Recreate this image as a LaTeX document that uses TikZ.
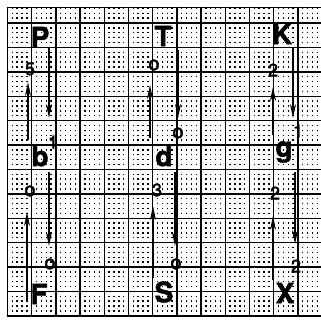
\documentclass[tikz,border=0pt]{standalone}
\usepackage{fontspec}
\newfontfamily\heavy[FakeBold=1.6]{TeX Gyre Heros}
\newfontfamily\pen[FakeBold=2.2]{TeX Gyre Heros}
\usetikzlibrary{arrows.meta}
\begin{document}
\begin{tikzpicture}[x=1pt,y=-1pt,
  letter/.style={font=\heavy\bfseries\fontsize{28}{28}\selectfont, inner sep=0pt, text=black},
  hand/.style={font=\pen\fontsize{18}{18}\selectfont, inner sep=0pt},
  ring/.style={font=\pen\fontsize{20}{20}\selectfont, inner sep=0pt},
  arr/.style={line width=1.9pt, -{Stealth[length=14pt,width=6pt]}},
  major/.style={line width=1.4pt, black},
  dots/.style={line width=1.4pt, black, dash pattern=on 1.4pt off 3.48pt}
  ]
\useasboundingbox (0,0) rectangle (321,321);
\fill[white] (0,0) rectangle (321,321);
% graph paper
\begin{scope}
\clip (7,7) rectangle (321,317);
\foreach \i [evaluate=\i as \x using 7.5+4.84*\i] in {0,...,65}
  \draw[dots] (\x,7.66) -- (\x,317);
\foreach \k [evaluate=\k as \x using 7.5+24.2*\k] in {0,...,13}
  \draw[major] (\x,7) -- (\x,317);
\foreach \k [evaluate=\k as \y using 23+24.4*\k] in {0,...,12}
  \draw[major] (7,\y) -- (321,\y);
\end{scope}
\draw[line width=1.8pt] (7.5,7) -- (7.5,317);
\draw[line width=1.6pt] (7,7.5) -- (321,7.5);
% letters
\node[letter] (P) at (40,37) {P};
\node[letter] (T) at (163,36) {T};
\node[letter] (K) at (282,34) {K};
\node[letter] (b) at (40,156) {b};
\node[letter] (d) at (164,156) {d};
\node[letter] (g) at (284,152) {g};
\node[letter] (F) at (39,294) {F};
\node[letter] (S) at (164,292) {S};
\node[letter] (X) at (285,293) {X};
% column 1
\coordinate (c1a) at (28,140); \coordinate (c1b) at (28,82);
\coordinate (c1c) at (49,48);  \coordinate (c1d) at (49,118);
\coordinate (c1e) at (27,300); \coordinate (c1f) at (27,212);
\coordinate (c1g) at (49,172); \coordinate (c1h) at (49,246);
\draw[arr] (c1a) -- (c1b);
\draw[arr] (c1c) -- (c1d);
\draw[arr] (c1e) -- (c1f);
\draw[arr] (c1g) -- (c1h);
\node[hand] (l1) at (30,69) {5};
\node[hand] (l2) at (53,142) {1};
\node[ring] (l3) at (30,191) {o};
\node[ring] (l4) at (50,264) {o};
% column 2
\coordinate (c2a) at (150,138); \coordinate (c2b) at (150,85);
\coordinate (c2c) at (178,50);  \coordinate (c2d) at (178,118);
\coordinate (c2e) at (153,278); \coordinate (c2f) at (153,206);
\coordinate (c2g) at (175,172); \coordinate (c2h) at (175,246);
\draw[arr] (c2a) -- (c2b);
\draw[arr] (c2c) -- (c2d);
\draw[arr] (c2e) -- (c2f);
\draw[arr] (c2g) -- (c2h);
\node[ring] (m1) at (154,65) {o};
\node[ring] (m2) at (178,133) {o};
\node[hand] (m3) at (157,190) {3};
\node[ring] (m4) at (176,264) {o};
% column 3
\coordinate (c3a) at (273,135); \coordinate (c3b) at (273,87);
\coordinate (c3c) at (293,48);  \coordinate (c3d) at (293,118);
\coordinate (c3e) at (273,280); \coordinate (c3f) at (273,216);
\coordinate (c3g) at (295,172); \coordinate (c3h) at (295,244);
\draw[arr] (c3a) -- (c3b);
\draw[arr] (c3c) -- (c3d);
\draw[arr] (c3e) -- (c3f);
\draw[arr] (c3g) -- (c3h);
\node[hand] (n1) at (273,70) {2};
\node[hand] (n2) at (298,131) {1};
\node[hand] (n3) at (275,193) {2};
\node[hand] (n4) at (296,266) {2};
\end{tikzpicture}
\end{document}
